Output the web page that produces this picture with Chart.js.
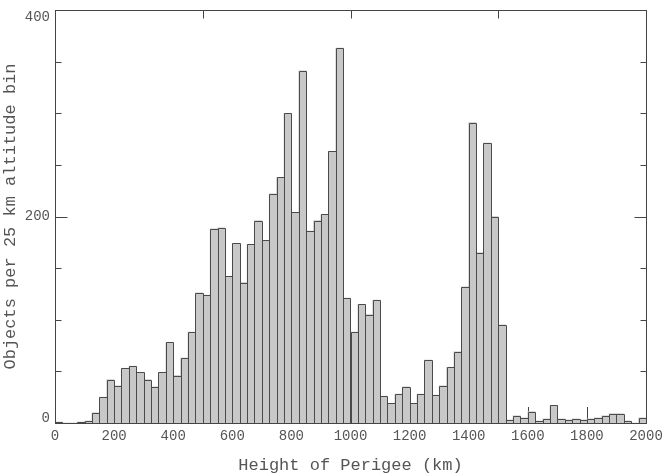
<!DOCTYPE html>
<html>
<head>
<meta charset="utf-8">
<script src="https://cdn.jsdelivr.net/npm/chart.js@4.4.1/dist/chart.umd.min.js"></script>
<style>
  html, body { margin: 0; padding: 0; background: #fff; }
  #wrap { width: 663px; height: 474px; position: relative; }
</style>
</head>
<body>
<div id="wrap"><canvas id="c"></canvas></div>
<script>
// ── data: objects per 25 km perigee bin, 0–2000 km ──
const binStart = 0;
const binWidth = 25;
const counts = [
  1, 0, 0, 1, 2, 10, 25, 42, 36, 53,
  55, 49, 42, 35, 49, 78, 46, 63, 88, 126,
  124, 188, 189, 142, 174, 136, 173, 196, 177, 222,
  238, 300, 204, 341, 186, 196, 202, 263, 363, 121,
  88, 115, 105, 119, 26, 19, 28, 35, 19, 28,
  61, 27, 36, 54, 69, 132, 291, 165, 271, 200,
  95, 3, 7, 5, 11, 2, 4, 17, 4, 3,
  4, 3, 4, 5, 7, 9, 9, 2, 0, 5
];
const yTicks = [0, 200, 400];
const yMinorTicks = [50, 100, 150, 250, 300, 350];
const xTopTicks = [500, 1000, 1500];
const xBottomTicks = [200, 400, 600, 800, 1000, 1200, 1400, 1600, 1800];

const FONT = "'Liberation Mono', 'DejaVu Sans Mono', monospace";
const INK = '#555555';
const FRAME = '#444444';

const points = counts.map((v, i) => ({ x: binStart + binWidth * (i + 0.5), y: v }));

// frame, inside ticks, bar outlines and y labels
const decor = {
  id: 'decor',
  beforeDatasetsDraw(chart) {
    const { ctx, chartArea: a, scales: { x } } = chart;
    ctx.save();
    ctx.strokeStyle = FRAME;
    ctx.lineWidth = 1;
    ctx.beginPath();
    xBottomTicks.forEach(v => {
      const px = Math.round(x.getPixelForValue(v)) + 0.5;
      ctx.moveTo(px, a.bottom); ctx.lineTo(px, a.bottom - 16);
    });
    ctx.stroke();
    ctx.restore();
  },
  afterDatasetsDraw(chart) {
    const { ctx, chartArea: a, scales: { x, y } } = chart;
    ctx.save();
    ctx.strokeStyle = '#4a4a4a';
    ctx.lineWidth = 1;
    chart.getDatasetMeta(0).data.forEach(bar => {
      const { x: cx, y: top, width, base } = bar.getProps(['x', 'y', 'width', 'base'], true);
      const l = Math.round(cx - width / 2) + 0.5;
      const r = Math.round(cx + width / 2) + 0.5;
      const t = Math.round(top) + 0.5;
      const b = Math.round(base) + 0.5;
      if (b - t < 0.5) return;
      ctx.beginPath();
      ctx.moveTo(l, b); ctx.lineTo(l, t); ctx.lineTo(r, t); ctx.lineTo(r, b);
      ctx.stroke();
    });

    // frame
    ctx.strokeStyle = FRAME;
    const L = Math.round(a.left) + 0.5, R = Math.round(a.right) + 0.5;
    const T = Math.round(a.top) + 0.5, B = Math.round(a.bottom) + 0.5;
    ctx.strokeRect(L, T, R - L, B - T);

    // left / right ticks
    ctx.beginPath();
    yTicks.concat(yMinorTicks).forEach(v => {
      const py = Math.round(y.getPixelForValue(v)) + 0.5;
      const len = (v === 200) ? 12 : 6;
      ctx.moveTo(L, py); ctx.lineTo(L + len, py);
      ctx.moveTo(R, py); ctx.lineTo(R - len, py);
    });
    xTopTicks.forEach(v => {
      const px = Math.round(x.getPixelForValue(v)) + 0.5;
      ctx.moveTo(px, T); ctx.lineTo(px, T + 8);
    });
    ctx.stroke();

    // y labels, end values pulled inside the frame
    ctx.fillStyle = INK;
    ctx.font = '14px ' + FONT;
    ctx.textAlign = 'right';
    ctx.textBaseline = 'middle';
    yTicks.forEach(v => {
      let py = y.getPixelForValue(v);
      if (v === y.max) py += 7;
      if (v === y.min) py -= 5;
      ctx.fillText(String(v), a.left - 5, py);
    });
    ctx.restore();
  }
};

new Chart(document.getElementById('c'), {
  type: 'bar',
  data: {
    datasets: [{
      data: points,
      backgroundColor: '#c8c8c8',
      borderWidth: 0,
      barPercentage: 1,
      categoryPercentage: 1
    }]
  },
  plugins: [decor],
  options: {
    responsive: true,
    maintainAspectRatio: false,
    animation: false,
    devicePixelRatio: 1,
    layout: { padding: { top: 10, right: 17, left: 0, bottom: 0 } },
    plugins: { legend: { display: false }, tooltip: { enabled: false } },
    scales: {
      x: {
        type: 'linear',
        min: 0,
        max: 2000,
        offset: false,
        afterFit: s => { s.height = 51; s.paddingLeft = 0; s.paddingRight = 0; },
        border: { display: false },
        grid: { display: false, drawTicks: false, offset: false },
        ticks: {
          stepSize: 200,
          padding: 5,
          maxRotation: 0,
          autoSkip: false,
          color: INK,
          font: { family: FONT, size: 14 },
          callback: v => String(v)
        },
        title: {
          display: true,
          text: 'Height of Perigee (km)',
          color: INK,
          padding: 0,
          font: { family: FONT, size: 17, lineHeight: 1 }
        }
      },
      y: {
        min: 0,
        max: 400,
        afterFit: s => { s.width = 55; s.paddingTop = 0; s.paddingBottom = 0; },
        border: { display: false },
        grid: { display: false, drawTicks: false },
        ticks: { display: false, stepSize: 200 },
        title: {
          display: true,
          text: 'Objects per 25 km altitude bin',
          color: INK,
          padding: 0,
          font: { family: FONT, size: 17 }
        }
      }
    }
  }
});
</script>
</body>
</html>
